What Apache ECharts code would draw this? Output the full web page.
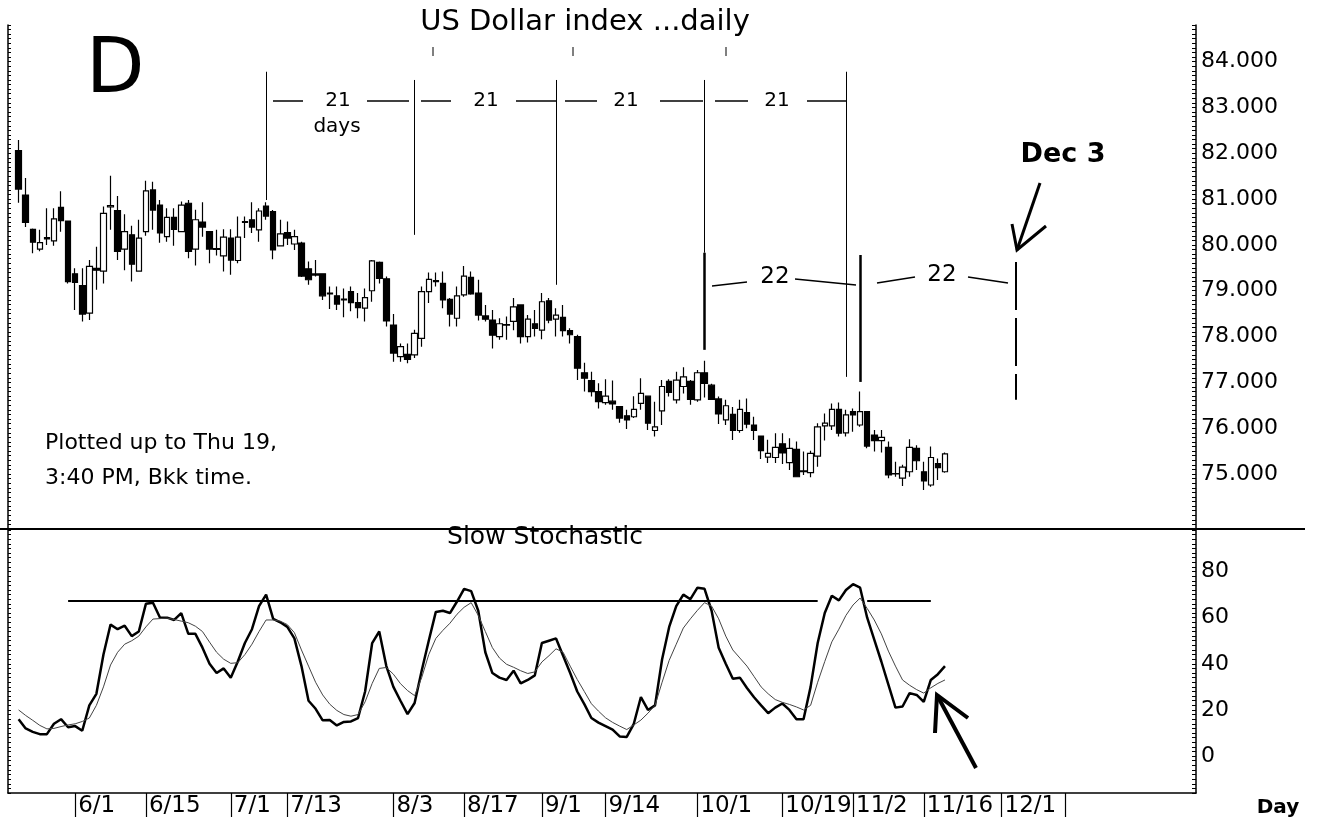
<!DOCTYPE html>
<html>
<head>
<meta charset="UTF-8">
<title>US Dollar index ...daily</title>
<script src="https://cdn.jsdelivr.net/npm/echarts@6/dist/echarts.min.js"></script>
<style>html,body{margin:0;padding:0;background:#fff;}</style>
</head>
<body>
<div id="main" style="width:1322px;height:823px;"></div>
<script>
// first plotted session and the date labels under the axis
var firstDay = '5/20';
var tickLabels = ['6/1', '6/15', '7/1', '7/13', '8/3', '8/17', '9/1', '9/14', '10/1', '10/19', '11/2', '11/16', '12/1'];
var extraTicks = ['12/14'];

// daily candles: [open, close, low, high]
var ohlc = [
  [82.06, 81.22, 80.92, 82.29], [81.09, 80.49, 80.39, 81.46], [80.34, 80.06, 79.82, 80.36], [79.91, 80.05, 79.86, 80.33],
  [80.13, 80.16, 80.00, 80.80], [80.09, 80.57, 79.98, 80.80], [80.82, 80.53, 80.29, 81.17], [80.52, 79.20, 79.16, 80.53],
  [79.37, 79.18, 78.58, 79.49], [79.11, 78.49, 78.33, 79.49], [78.51, 79.53, 78.36, 79.67], [79.49, 79.45, 79.02, 79.96],
  [79.43, 80.69, 79.16, 80.84], [80.83, 80.86, 80.33, 81.51], [80.75, 79.86, 79.67, 81.07], [79.91, 80.29, 79.45, 80.67],
  [80.22, 79.58, 79.20, 80.42], [79.43, 80.15, 79.42, 80.55], [80.29, 81.18, 80.20, 81.40], [81.20, 80.76, 80.33, 81.38],
  [80.87, 80.26, 80.05, 80.98], [80.18, 80.60, 80.07, 80.80], [80.60, 80.34, 79.98, 80.80], [80.29, 80.87, 80.28, 80.95],
  [80.91, 79.86, 79.71, 80.98], [79.91, 80.55, 79.55, 80.77], [80.50, 80.39, 80.18, 80.93], [80.29, 79.91, 79.60, 80.30],
  [79.92, 79.90, 79.77, 80.33], [79.76, 80.17, 79.42, 80.34], [80.15, 79.67, 79.35, 80.34], [79.66, 80.17, 79.60, 80.62],
  [80.49, 80.51, 80.15, 80.62], [80.55, 80.39, 80.26, 80.93], [80.33, 80.74, 80.07, 80.80], [80.85, 80.63, 80.55, 80.93],
  [80.73, 79.89, 79.69, 80.76], [79.98, 80.24, 79.97, 80.55], [80.27, 80.15, 80.00, 80.51], [80.02, 80.18, 79.89, 80.33],
  [80.04, 79.32, 79.30, 80.07], [79.48, 79.24, 79.13, 79.64], [79.34, 79.37, 79.31, 79.67], [79.37, 78.89, 78.80, 79.38],
  [78.95, 78.93, 78.60, 79.09], [78.89, 78.71, 78.58, 79.09], [78.80, 78.82, 78.42, 79.05], [78.98, 78.74, 78.55, 79.09],
  [78.74, 78.63, 78.40, 78.95], [78.62, 78.85, 78.33, 79.05], [79.00, 79.65, 78.76, 79.67], [79.62, 79.27, 79.16, 79.64],
  [79.26, 78.34, 78.22, 79.31], [78.25, 77.64, 77.45, 78.49], [77.56, 77.78, 77.45, 77.85], [77.61, 77.50, 77.42, 77.85],
  [77.60, 78.07, 77.53, 78.15], [77.96, 78.98, 77.78, 79.09], [78.98, 79.25, 78.73, 79.40], [79.22, 79.20, 79.09, 79.40],
  [79.16, 78.80, 78.62, 79.42], [78.81, 78.49, 78.22, 78.84], [78.40, 78.89, 78.22, 79.09], [78.91, 79.32, 78.87, 79.54],
  [79.29, 78.93, 78.91, 79.42], [78.95, 78.47, 78.35, 79.24], [78.45, 78.38, 78.33, 78.69], [78.36, 78.03, 77.74, 78.58],
  [78.00, 78.28, 77.93, 78.40], [78.25, 78.26, 77.93, 78.44], [78.33, 78.65, 78.14, 78.84], [78.69, 78.00, 77.85, 78.69],
  [78.00, 78.38, 77.87, 78.47], [78.28, 78.18, 78.00, 78.58], [78.14, 78.76, 77.94, 78.95], [78.78, 78.36, 78.29, 78.84],
  [78.38, 78.47, 78.00, 78.62], [78.42, 78.13, 78.00, 78.69], [78.13, 78.04, 77.85, 78.18], [78.00, 77.31, 77.05, 78.04],
  [77.21, 77.09, 76.80, 77.43], [77.04, 76.80, 76.69, 77.23], [76.80, 76.58, 76.43, 76.98], [76.56, 76.70, 76.51, 77.07],
  [76.59, 76.53, 76.40, 77.04], [76.47, 76.22, 76.12, 76.48], [76.27, 76.18, 75.98, 76.40], [76.25, 76.41, 76.22, 76.70],
  [76.54, 76.76, 76.40, 77.09], [76.70, 76.11, 75.96, 76.71], [75.95, 76.03, 75.82, 76.58], [76.38, 76.91, 76.07, 77.05],
  [77.02, 76.78, 76.69, 77.07], [76.62, 77.05, 76.54, 77.23], [76.91, 77.12, 76.76, 77.33], [77.02, 76.63, 76.51, 77.05],
  [76.62, 77.21, 76.58, 77.27], [77.21, 76.98, 76.67, 77.47], [76.94, 76.63, 76.62, 76.97], [76.64, 76.31, 76.09, 76.69],
  [76.18, 76.49, 76.07, 76.62], [76.30, 75.95, 75.74, 76.46], [75.95, 76.41, 75.90, 76.62], [76.34, 76.09, 76.00, 76.65],
  [76.07, 75.95, 75.74, 76.25], [75.83, 75.51, 75.33, 75.83], [75.37, 75.45, 75.24, 75.75], [75.36, 75.58, 75.24, 75.89],
  [75.66, 75.46, 75.22, 75.89], [75.25, 75.56, 75.09, 75.78], [75.54, 74.94, 74.93, 75.71], [75.05, 75.07, 74.98, 75.49],
  [75.03, 75.45, 74.93, 75.51], [75.39, 76.03, 75.16, 76.11], [76.05, 76.11, 75.73, 76.32], [76.05, 76.41, 75.96, 76.54],
  [76.41, 75.89, 75.82, 76.56], [75.90, 76.29, 75.82, 76.40], [76.36, 76.29, 75.92, 76.43], [76.07, 76.36, 76.03, 76.80],
  [76.36, 75.61, 75.56, 76.36], [75.85, 75.73, 75.49, 75.96], [75.73, 75.80, 75.47, 75.96], [75.58, 74.98, 74.91, 75.71],
  [75.00, 75.01, 74.94, 75.27], [74.91, 75.15, 74.74, 75.20], [75.05, 75.58, 74.94, 75.76], [75.56, 75.29, 75.09, 75.63],
  [75.05, 74.85, 74.65, 75.27], [74.76, 75.36, 74.72, 75.60], [75.23, 75.14, 74.87, 75.34], [75.05, 75.44, 75.03, 75.47]
];

// slow stochastic, %K (bold) and %D (thin)
var slowK = [
  16, 12, 10.5, 9.5, 9.5, 14, 16, 12.5,
  13, 11, 22, 27, 44, 57, 55, 56.5, 52, 54,
  66, 66.5, 60, 60, 59, 62, 53, 53, 47, 40, 36, 38,
  34, 41, 49, 55, 65, 70, 59.5, 58,
  56, 51, 39, 24, 20.5, 15.5, 15.6, 13.3, 14.8, 15, 16.5, 28, 49, 54, 39,
  30, 24, 18.2, 23, 37, 50, 62.5, 63, 62, 67,
  72.5, 71.5, 63, 45, 36, 34, 33, 37, 31.5, 33, 35,
  49, 50, 51, 43.5, 36, 28, 22.5, 16.5, 14.5,
  13, 11.5, 8.5, 8.3, 14, 25.6, 20, 22, 42, 56, 65, 70, 68,
  73, 72.5, 63, 47, 40, 33.5, 34, 29.5, 25.5, 22, 18.6, 21,
  22.8, 20, 16, 16, 30, 49, 62, 69.5, 67.5, 72,
  74.5, 73, 60, 50.5, 41, 31, 21, 21.5, 27.3, 26.5,
  23.5, 33, 35.5, 39
];
var slowD = [
  20, 17.6, 15.5, 13.3, 11.8, 12, 12.8, 13.5,
  14, 15, 16.5, 22, 30, 39.5, 45, 48.5, 50, 52,
  56, 59.4, 59.6, 59.8, 59.2, 58.5, 57.8, 56.3, 54, 49.4, 45, 42,
  40.2, 40.5, 44, 48.5, 54, 59, 59, 58.5,
  57, 53.5, 46, 39, 32, 26.5, 22.5, 19.8, 18, 17.3, 18, 23.5, 31.5, 38, 38.4,
  35.5, 31.4, 28.4, 26.2, 34, 44, 51, 54.5, 57.6, 61.5,
  64.5, 66.5, 61, 54, 47, 42.5, 39.8, 38.5, 37, 35.8, 36.5,
  40.8, 43.5, 46.5, 45, 39, 33.2, 28, 22.7, 19.5,
  16.6, 14.6, 13, 11.5, 13.5, 15.6, 18.6, 22, 32, 41.5, 48.5, 55.5, 59.5,
  63.2, 66.5, 65, 59.5, 52, 46, 42.5, 39, 34.5, 30, 27, 24.5,
  23.3, 22.4, 21.3, 20, 22, 32, 41, 49.5, 55, 61,
  65.5, 68.5, 64, 59, 53, 45.5, 39, 33, 30.7, 28.8,
  27.3, 29.6, 31.5, 33
];

// hand-drawn cycle lines: [date, from value, to value, width, dashed]
var cycleLines = [
  ['7/8', 83.78, 80.98, 1, false],
  ['8/6', 83.60, 80.22, 1, false],
  ['9/3', 83.60, 79.13, 1, false],
  ['10/2', 83.60, 79.83, 1, false],
  ['10/2', 79.83, 77.71, 2.5, false],
  ['10/30', 83.78, 77.12, 1, false],
  ['11/3', 79.78, 77.01, 2.5, false],
  ['12/3', 79.63, 76.62, 2, true]
];
var stochLevel = 67.2;
var stochLevelSpans = [['5/29', '10/26'], ['11/4', '11/17']];

// weekday categories (all weekdays, as in the plot)
var days = [];
var d = new Date(Date.UTC(2009, 4, 19));
while (days.length < 168) {
  var wd = d.getUTCDay();
  if (wd !== 0 && wd !== 6) days.push((d.getUTCMonth() + 1) + '/' + d.getUTCDate());
  d.setUTCDate(d.getUTCDate() + 1);
}
var off = days.indexOf(firstDay);
function pad(arr) {
  return days.map(function (c, i) {
    var k = i - off;
    return (k >= 0 && k < arr.length) ? arr[k] : '-';
  });
}

var FONT = 'DejaVu Sans';
var myChart = echarts.init(document.getElementById('main'));

function isInt(v) { return Math.abs(v - Math.round(v)) < 1e-6; }

function txt(text, x, y, size, opts) {
  opts = opts || {};
  return {
    type: 'text', x: x, y: y, silent: true,
    style: {
      text: text, fill: '#000', font: (opts.bold ? 'bold ' : '') + size + 'px "' + FONT + '"',
      textAlign: opts.align || 'center', textVerticalAlign: 'middle'
    }
  };
}
function seg(pts, w) {
  return { type: 'polyline', silent: true, shape: { points: pts }, style: { stroke: '#000', lineWidth: w || 1.2, fill: null } };
}

var graphics = [
  seg([[0, 529], [1305, 529]], 2),
  txt('US Dollar index ...daily', 585, 22, 29),
  txt('D', 86, 72, 76, { align: 'left' }),
  seg([[433, 47], [433, 56]], 1), seg([[573, 47], [573, 56]], 1), seg([[726, 47], [726, 56]], 1),
  seg([[273, 101], [303, 101]], 1.5), seg([[367, 101], [409, 101]], 1.5),
  seg([[421, 101], [451, 101]], 1.5), seg([[516, 101], [556, 101]], 1.5),
  seg([[565, 101], [597, 101]], 1.5), seg([[660, 101], [703, 101]], 1.5),
  seg([[715, 101], [748, 101]], 1.5), seg([[807, 101], [846, 101]], 1.5),
  txt('21', 338, 101, 20), txt('21', 486, 101, 20), txt('21', 626, 101, 20), txt('21', 777, 101, 20),
  txt('days', 337, 127, 20),
  seg([[712, 286], [747, 282]], 1.5), seg([[795, 279], [856, 285]], 1.5),
  seg([[877, 283], [915, 277]], 1.5), seg([[968, 277], [1008, 283]], 1.5),
  txt('22', 775, 277, 23), txt('22', 942, 275, 23),
  txt('Dec 3', 1063, 155, 27, { bold: true }),
  seg([[1040, 183], [1017, 250]], 3), seg([[1012, 224], [1017, 250], [1046, 226]], 3),
  txt('Plotted up to Thu 19,', 45, 443, 22, { align: 'left' }),
  txt('3:40 PM, Bkk time.', 45, 478, 22, { align: 'left' }),
  txt('Slow Stochastic', 545, 537, 25),
  seg([[976, 768], [937, 695]], 4), seg([[935, 733], [937, 695], [968, 718]], 4),
  txt('Day', 1278, 808, 20, { bold: true })
];

var axisBlack = { onZero: false, lineStyle: { color: '#000', width: 1.5 } };

myChart.setOption({
  animation: false,
  backgroundColor: '#fff',
  textStyle: { fontFamily: FONT },
  grid: [
    { left: 8, width: 1188, top: 25, height: 504 },
    { left: 8, width: 1188, top: 530, height: 263 }
  ],
  xAxis: [
    { gridIndex: 0, type: 'category', data: days, show: false },
    {
      gridIndex: 1, type: 'category', data: days, position: 'bottom',
      axisLine: axisBlack,
      axisTick: {
        show: true, alignWithLabel: true, length: 24, lineStyle: { color: '#000', width: 1.2 },
        interval: function (i, v) { return tickLabels.indexOf(v) >= 0 || extraTicks.indexOf(v) >= 0; }
      },
      axisLabel: {
        interval: function (i, v) { return tickLabels.indexOf(v) >= 0; },
        align: 'left', margin: 2, padding: [0, 0, 0, 3],
        color: '#000', fontSize: 23, fontFamily: FONT
      }
    }
  ],
  yAxis: [
    {
      gridIndex: 0, type: 'value', position: 'right', min: 73.8, max: 84.8, interval: 0.1,
      axisLine: { show: true, lineStyle: { color: '#000', width: 1.5 } },
      axisTick: { show: true, inside: true, length: 4, lineStyle: { color: '#000' } },
      splitLine: { show: false },
      axisLabel: {
        margin: 5, color: '#000', fontSize: 22, fontFamily: FONT,
        formatter: function (v) { return (isInt(v) && v >= 75) ? Math.round(v).toFixed(3) : ''; }
      }
    },
    {
      gridIndex: 0, type: 'value', position: 'left', min: 73.8, max: 84.8, interval: 0.1,
      axisLine: { show: true, lineStyle: { color: '#000', width: 1.5 } },
      axisTick: { show: true, inside: true, length: 3, lineStyle: { color: '#000' } },
      splitLine: { show: false }, axisLabel: { show: false }
    },
    {
      gridIndex: 1, type: 'value', position: 'right', min: -16, max: 98, interval: 2,
      axisLine: { show: true, lineStyle: { color: '#000', width: 1.5 } },
      axisTick: { show: true, inside: true, length: 4, lineStyle: { color: '#000' } },
      splitLine: { show: false },
      axisLabel: {
        margin: 5, color: '#000', fontSize: 22, fontFamily: FONT,
        formatter: function (v) { var r = Math.round(v); return (r % 20 === 0 && r >= 0 && r <= 80) ? String(r) : ''; }
      }
    },
    {
      gridIndex: 1, type: 'value', position: 'left', min: -16, max: 98, interval: 2,
      axisLine: { show: true, lineStyle: { color: '#000', width: 1.5 } },
      axisTick: { show: true, inside: true, length: 3, lineStyle: { color: '#000' } },
      splitLine: { show: false }, axisLabel: { show: false }
    }
  ],
  series: [
    {
      name: 'USDX', type: 'candlestick', xAxisIndex: 0, yAxisIndex: 0,
      data: pad(ohlc), barWidth: 6,
      itemStyle: { color: '#fff', color0: '#000', borderColor: '#000', borderColor0: '#000', borderWidth: 1.2 },
      markLine: {
        silent: true, symbol: ['none', 'none'], label: { show: false },
        data: cycleLines.map(function (c) {
          return [
            { coord: [c[0], c[1]], lineStyle: { color: '#000', width: c[3], type: c[4] ? [48, 8] : 'solid' } },
            { coord: [c[0], c[2]] }
          ];
        })
      }
    },
    {
      name: '%K', type: 'line', xAxisIndex: 1, yAxisIndex: 2, data: pad(slowK),
      showSymbol: false, lineStyle: { color: '#000', width: 2.5 },
      markLine: {
        silent: true, symbol: ['none', 'none'], label: { show: false },
        lineStyle: { color: '#000', width: 2, type: 'solid' },
        data: stochLevelSpans.map(function (s) {
          return [{ coord: [s[0], stochLevel] }, { coord: [s[1], stochLevel] }];
        })
      }
    },
    {
      name: '%D', type: 'line', xAxisIndex: 1, yAxisIndex: 2, data: pad(slowD),
      showSymbol: false, lineStyle: { color: '#444', width: 1 }
    }
  ],
  graphic: graphics
});
</script>
</body>
</html>
